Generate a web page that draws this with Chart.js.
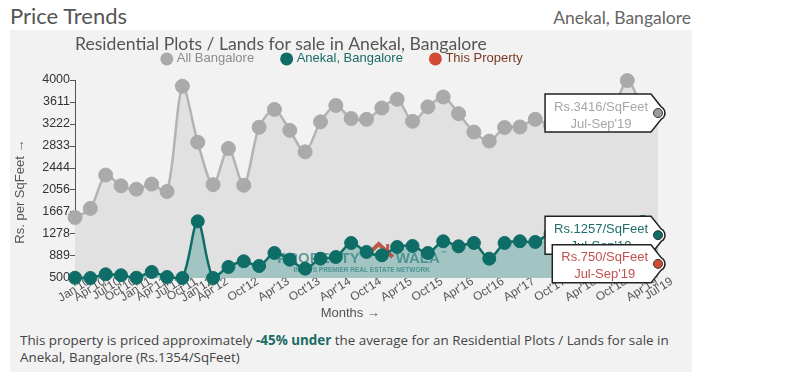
<!DOCTYPE html>
<html>
<head>
<meta charset="utf-8">
<script src="https://cdn.jsdelivr.net/npm/chart.js@4.4.1/dist/chart.umd.min.js"></script>
<style>
  html, body { margin: 0; padding: 0; background: #fff; width: 786px; height: 372px; overflow: hidden; }
  #head { position: absolute; left: 10px; top: 2px; font-family: Lato, sans-serif; font-size: 22px; color: #555; line-height: 28px; }
  #loc { position: absolute; right: 95px; top: 7px; font-family: Lato, sans-serif; font-size: 17.5px; color: #666; line-height: 22px; }
  #panel { position: absolute; left: 10px; top: 30px; width: 682px; height: 342px; background: #f2f2f2; }
  #c { position: absolute; left: 0; top: 2px; }
  #note { position: absolute; left: 10px; top: 302px; width: 672px; font-family: "Open Sans", sans-serif; font-size: 13.4px; color: #444; line-height: 17px; }
  #note b { color: #1b6b66; }
</style>
</head>
<body>
<div id="head">Price Trends</div>
<div id="loc">Anekal, Bangalore</div>
<div id="panel">
  <canvas id="c" width="680" height="295"></canvas>
  <div id="note">This property is priced approximately <b>-45% under</b> the average for an Residential Plots / Lands for sale in Anekal, Bangalore (Rs.1354/SqFeet)</div>
</div>
<script>
// quarterly data, Jan'10 .. Jul'19
const quarters = ["Jan'10", "Apr'10", "Jul'10", "Oct'10", "Jan'11", "Apr'11", "Jul'11", "Oct'11",
  "Jan'12", "Apr'12", "Jul'12", "Oct'12", "Jan'13", "Apr'13", "Jul'13", "Oct'13",
  "Jan'14", "Apr'14", "Jul'14", "Oct'14", "Jan'15", "Apr'15", "Jul'15", "Oct'15",
  "Jan'16", "Apr'16", "Jul'16", "Oct'16", "Jan'17", "Apr'17", "Jul'17", "Oct'17",
  "Jan'18", "Apr'18", "Jul'18", "Oct'18", "Jan'19", "Apr'19", "Jul'19"];

const shownTicks = ["Jan'10", "Apr'10", "Jul'10", "Oct'10", "Jan'11", "Apr'11", "Jul'11", "Oct'11",
  "Jan'12", "Apr'12", "Oct'12", "Apr'13", "Oct'13", "Apr'14", "Oct'14", "Apr'15", "Oct'15",
  "Apr'16", "Oct'16", "Apr'17", "Oct'17", "Apr'18", "Oct'18", "Apr'19", "Jul'19"];

const allBangalore = [1570, 1730, 2320, 2130, 2070, 2160, 2030, 3890,
  2900, 2150, 2790, 2140, 3165, 3480, 3110, 2730,
  3260, 3550, 3320, 3305, 3505, 3660, 3270, 3525,
  3700, 3405, 3080, 2920, 3160, 3170, 3305, 3200,
  3300, 3250, 3350, 3450, 3990, 3550, 3416];

const anekal = [505, 500, 565, 548, 505, 606, 518, 500,
  1502, 500, 695, 795, 712, 942, 824, 665,
  842, 871, 1119, 960, 901, 1048, 1066, 942,
  1149, 1060, 1119, 842, 1119, 1149, 1137, 1283,
  1250, 1300, 1280, 1350, 1400, 1490, 1257];

const thisProperty = [null, null, null, null, null, null, null, null,
  null, null, null, null, null, null, null, null,
  null, null, null, null, null, null, null, null,
  null, null, null, null, null, null, null, null,
  null, null, null, null, null, null, 750];

const yTicks = [500, 889, 1278, 1667, 2056, 2444, 2833, 3222, 3611, 4000];
const lastPeriod = "Jul-Sep'19";

const legendDot = ['#aaaaaa', '#0e6d67', '#d24b35'];
const legendText = ['#8c8c8c', '#1b6b66', '#7a3a22'];
const tagText = ['#a6a6a6', '#1e6e69', '#c0504d'];
const tagDot = ['#9c9c9c', '#0e6d67', '#d24b35'];

const last = quarters.length - 1;
const radiusFor = r => ctx => ctx.dataIndex === last ? 0 : r;

Chart.defaults.font.family = '"Liberation Sans", Arial, sans-serif';

// faint logo in the teal area, under the teal line
const watermark = {
  id: 'watermark',
  beforeDatasetDraw(chart, args) {
    if (args.index !== 1) return;
    const {ctx, chartArea: a} = chart;
    const cx = a.left + a.width * 0.49, y = a.bottom - 19;
    ctx.save();
    ctx.globalAlpha = 0.7;
    ctx.fillStyle = '#2b7f7a';
    ctx.textBaseline = 'middle';
    ctx.font = 'bold 15px "Liberation Sans", Arial';
    ctx.textAlign = 'right';
    ctx.fillText('PROPERTY', cx - 1, y);
    ctx.textAlign = 'left';
    ctx.fillText('WALA', cx + 35, y);
    ctx.font = 'bold 6px "Liberation Sans", Arial';
    ctx.fillText('™', cx + 80, y - 6);
    ctx.font = 'bold 6.5px "Liberation Sans", Arial';
    ctx.textAlign = 'center';
    ctx.fillText("INDIA'S PREMIER REAL ESTATE NETWORK", cx + 1, y + 11);
    ctx.globalAlpha = 0.85;
    ctx.strokeStyle = '#b5402f';
    ctx.lineWidth = 4;
    ctx.beginPath();
    ctx.moveTo(cx + 5, y - 2);
    ctx.lineTo(cx + 18, y - 15);
    ctx.lineTo(cx + 32, y - 2);
    ctx.stroke();
    ctx.lineWidth = 3;
    ctx.beginPath();
    ctx.moveTo(cx + 27, y - 15);
    ctx.lineTo(cx + 27, y - 8);
    ctx.stroke();
    ctx.restore();
  }
};

// price tags on the latest quarter of every series
const tags = {
  id: 'tags',
  afterDatasetsDraw(chart) {
    const ctx = chart.ctx;
    chart.data.datasets.forEach((ds, i) => {
      const el = chart.getDatasetMeta(i).data[last];
      const px = el.x, py = el.y;
      const line1 = 'Rs.' + ds.data[last] + '/SqFeet';
      ctx.save();
      ctx.font = '13px "Liberation Sans", Arial';
      const w = Math.max(ctx.measureText(line1).width, ctx.measureText(lastPeriod).width) + 12;
      const right = px - 7, left = right - w, top = py - 19, bottom = py + 19;
      const a = Math.PI * 0.35;
      ctx.beginPath();
      ctx.moveTo(left, top);
      ctx.lineTo(right, top);
      ctx.lineTo(px + 7 * Math.cos(a), py - 7 * Math.sin(a));
      ctx.arc(px, py, 7, -a, a);
      ctx.lineTo(right, bottom);
      ctx.lineTo(left, bottom);
      ctx.closePath();
      ctx.fillStyle = '#fff';
      ctx.fill();
      ctx.strokeStyle = '#222';
      ctx.lineWidth = 1.5;
      ctx.stroke();
      ctx.beginPath();
      ctx.arc(px, py, 4.5, 0, Math.PI * 2);
      ctx.fillStyle = tagDot[i];
      ctx.fill();
      ctx.lineWidth = 1;
      ctx.strokeStyle = '#333';
      ctx.stroke();
      ctx.fillStyle = tagText[i];
      ctx.textAlign = 'center';
      ctx.textBaseline = 'middle';
      const tx = (left + right) / 2 + 3;
      ctx.fillText(line1, tx, py - 6);
      ctx.fillText(lastPeriod, tx, py + 11);
      ctx.restore();
    });
  }
};

new Chart(document.getElementById('c'), {
  type: 'line',
  data: {
    labels: quarters,
    datasets: [
      {
        label: 'All Bangalore', data: allBangalore, order: 3,
        borderColor: '#b3b3b3', borderWidth: 2.5, backgroundColor: '#e1e1e1', fill: 'start',
        tension: 0.3, pointRadius: radiusFor(7), pointBackgroundColor: '#aaaaaa',
        pointBorderColor: '#aaaaaa', pointBorderWidth: 1, clip: false
      },
      {
        label: 'Anekal, Bangalore', data: anekal, order: 2,
        borderColor: '#0e6d67', borderWidth: 2.5, backgroundColor: '#a2c5c4', fill: 'start',
        tension: 0.3, pointRadius: radiusFor(6.5), pointBackgroundColor: '#0e6d67',
        pointBorderColor: '#0e6d67', pointBorderWidth: 1, clip: false
      },
      {
        label: 'This Property', data: thisProperty, order: 1,
        borderColor: '#d24b35', backgroundColor: '#d24b35', pointRadius: 0, fill: false, showLine: false
      }
    ]
  },
  options: {
    responsive: false,
    animation: false,
    events: [],
    layout: { padding: { top: 0, left: 18, right: 32, bottom: 0 } },
    plugins: {
      tooltip: { enabled: false },
      title: {
        display: true,
        text: 'Residential Plots / Lands for sale in Anekal, Bangalore',
        align: 'start', fullSize: false, color: '#555',
        font: { family: 'Lato, sans-serif', size: 17.6, weight: 'normal' },
        padding: { top: 1.5, bottom: -31.2 }
      },
      legend: {
        position: 'top',
        maxHeight: 48,
        labels: {
          usePointStyle: true, pointStyle: 'circle', boxWidth: 7, boxHeight: 9.2, padding: 29,
          font: { size: 13 },
          generateLabels: chart => chart.data.datasets.map((d, i) => ({
            text: d.label, fillStyle: legendDot[i], strokeStyle: legendDot[i], lineWidth: 0,
            pointStyle: 'circle', fontColor: legendText[i], datasetIndex: i, hidden: false
          }))
        }
      }
    },
    scales: {
      x: {
        offset: false,
        grid: { drawOnChartArea: false, drawTicks: true, tickLength: 5, color: '#555' },
        border: { color: '#555' },
        ticks: {
          autoSkip: false, minRotation: 32, maxRotation: 32, labelOffset: 14, padding: 0,
          color: '#555', font: { size: 12 },
          callback: (v, i) => shownTicks.includes(quarters[i]) ? quarters[i] : ''
        },
        title: { display: true, text: 'Months →         ', color: '#555', font: { size: 13 }, padding: { top: 0, bottom: -2.8 } },
        afterFit: s => { s.height = 49; }
      },
      y: {
        min: 500, max: 4000,
        afterBuildTicks: s => { s.ticks = yTicks.map(v => ({ value: v })); },
        grid: { drawOnChartArea: false, tickLength: 5, color: '#555' },
        border: { color: '#555' },
        ticks: { color: '#333', font: { size: 12.5 }, padding: 0, callback: v => String(v) },
        title: { display: true, text: 'Rs. per SqFeet →       ', color: '#555', font: { size: 13 }, padding: { top: -15.8, bottom: 0 } },
        afterFit: s => { s.width = 47; }
      }
    }
  },
  plugins: [watermark, tags]
});
</script>
</body>
</html>
